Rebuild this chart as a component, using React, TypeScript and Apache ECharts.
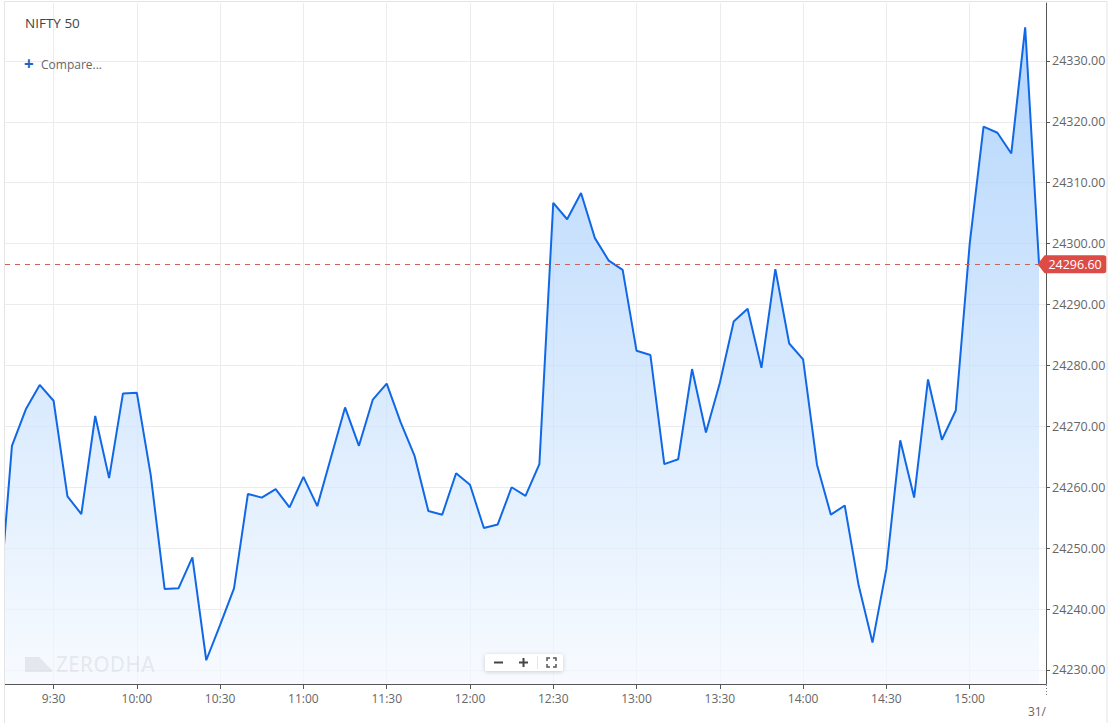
import * as echarts from 'echarts';
import { useEffect, useRef } from 'react';

// 5 minute closes, NIFTY 50 intraday (first point sits just left of the view)
const times = [
    '9:10', '9:15', '9:20', '9:25', '9:30', '9:35', '9:40', '9:45', '9:50', '9:55',
    '10:00', '10:05', '10:10', '10:15', '10:20', '10:25', '10:30', '10:35', '10:40', '10:45',
    '10:50', '10:55', '11:00', '11:05', '11:10', '11:15', '11:20', '11:25', '11:30', '11:35',
    '11:40', '11:45', '11:50', '11:55', '12:00', '12:05', '12:10', '12:15', '12:20', '12:25',
    '12:30', '12:35', '12:40', '12:45', '12:50', '12:55', '13:00', '13:05', '13:10', '13:15',
    '13:20', '13:25', '13:30', '13:35', '13:40', '13:45', '13:50', '13:55', '14:00', '14:05',
    '14:10', '14:15', '14:20', '14:25', '14:30', '14:35', '14:40', '14:45', '14:50', '14:55',
    '15:00', '15:05', '15:10', '15:15', '15:20', '15:25',
];

const prices = [
    24238.4, 24266.8, 24272.8, 24276.8, 24274.2, 24258.5, 24255.6, 24271.7, 24261.5, 24275.4,
    24275.5, 24262.0, 24243.3, 24243.4, 24248.5, 24231.6, 24237.4, 24243.4, 24258.9, 24258.3,
    24259.7, 24256.7, 24261.7, 24256.9, 24265.0, 24273.1, 24266.8, 24274.4, 24277.0, 24270.7,
    24265.2, 24256.1, 24255.5, 24262.3, 24260.4, 24253.3, 24253.9, 24260.0, 24258.6, 24263.8,
    24306.7, 24304.0, 24308.3, 24300.9, 24297.2, 24295.7, 24282.4, 24281.7, 24263.8, 24264.6,
    24279.4, 24269.0, 24277.1, 24287.2, 24289.3, 24279.6, 24295.8, 24283.6, 24281.0, 24263.7,
    24255.5, 24257.0, 24243.9, 24234.5, 24246.6, 24267.7, 24258.3, 24277.7, 24267.8, 24272.6,
    24299.9, 24319.2, 24318.2, 24314.8, 24335.5, 24296.6,
];

const timeTicks = ['9:30', '10:00', '10:30', '11:00', '11:30', '12:00', '12:30', '13:00', '13:30', '14:00', '14:30', '15:00'];
const priceTicks = [24230, 24240, 24250, 24260, 24270, 24280, 24290, 24300, 24310, 24320, 24330];

const toMin = (t: string) => {
    const [h, m] = t.split(':').map(Number);
    return h * 60 + m;
};
const fmtMin = (v: number) => {
    const h = Math.floor(v / 60);
    const m = Math.round(v - h * 60);
    return h + ':' + (m < 10 ? '0' : '') + m;
};

const FONT = '"Open Sans", "Noto Sans", sans-serif';

export default function App() {
    const chartRef = useRef<HTMLDivElement>(null);

    useEffect(() => {
        const chart = echarts.init(chartRef.current, null, { renderer: 'svg' });
        const series = times.map((t, i) => [toMin(t), prices[i]]);
        const last = series[series.length - 1];

        const option = {
            animation: false,
            backgroundColor: '#fff',
            textStyle: { fontFamily: FONT },
            grid: { left: 5, right: 65, top: 3, bottom: 39 },
            xAxis: {
                type: 'value',
                min: 552.5,
                max: 927.5,
                axisLine: { show: true, lineStyle: { color: '#555', width: 1 } },
                axisTick: {
                    show: true,
                    length: 5,
                    lineStyle: { color: '#555' },
                    customValues: timeTicks.map(toMin),
                },
                axisLabel: {
                    color: '#666',
                    fontSize: 12,
                    fontFamily: FONT,
                    margin: 8,
                    customValues: timeTicks.map(toMin),
                    formatter: (v: number) => fmtMin(v),
                },
                splitLine: { show: true, lineStyle: { color: '#ececec', width: 1 } },
            },
            yAxis: {
                type: 'value',
                position: 'right',
                min: 24227.7,
                max: 24339.5,
                axisLine: { show: true, lineStyle: { color: '#555', width: 1 } },
                axisTick: {
                    show: true,
                    length: 4,
                    lineStyle: { color: '#555' },
                    customValues: priceTicks,
                },
                axisLabel: {
                    color: '#666',
                    fontSize: 12.5,
                    fontFamily: FONT,
                    margin: 6,
                    customValues: priceTicks,
                    formatter: (v: number) => v.toFixed(2),
                },
                splitLine: { show: true, lineStyle: { color: '#ececec', width: 1 } },
            },
            series: [
                {
                    type: 'line',
                    data: series,
                    showSymbol: false,
                    clip: true,
                    lineStyle: { color: '#1168e6', width: 2 },
                    areaStyle: {
                        color: new echarts.graphic.LinearGradient(0, 0, 0, 1, [
                            { offset: 0, color: '#94c4fb' },
                            { offset: 1, color: '#f4f9ff' },
                        ]),
                    },
                    markLine: {
                        silent: true,
                        symbol: ['none', 'none'],
                        label: { show: false },
                        lineStyle: { color: '#d0605a', type: [5, 5], width: 1 },
                        data: [{ yAxis: last[1] }],
                    },
                    markPoint: {
                        silent: true,
                        symbol: 'path://M0,9 L7,0 L66,0 Q69,0 69,3 L69,15 Q69,18 66,18 L7,18 Z',
                        symbolSize: [69, 18],
                        symbolOffset: [33, 0],
                        itemStyle: { color: '#dd4b46' },
                        label: {
                            show: true,
                            color: '#fff',
                            fontSize: 12.5,
                            fontFamily: FONT,
                            offset: [3, 0],
                            formatter: (p: any) => Number(p.value).toFixed(2),
                        },
                        data: [{ coord: last, value: last[1] }],
                    },
                },
            ],
            graphic: [
                // outer frame
                {
                    type: 'rect',
                    shape: { x: 4.5, y: 1.5, width: 1102.5, height: 730 },
                    style: { fill: 'none', stroke: '#e4e4e4', lineWidth: 1 },
                    silent: true,
                    z: 50,
                },
                {
                    type: 'text',
                    left: 25,
                    top: 16,
                    style: { text: 'NIFTY 50', fill: '#444', fontSize: 13.5, fontFamily: FONT },
                    z: 60,
                },
                {
                    type: 'text',
                    left: 24,
                    top: 55,
                    style: { text: '+', fill: '#1f63c6', fontSize: 17, fontWeight: 'bold', fontFamily: FONT },
                    z: 60,
                },
                {
                    type: 'text',
                    left: 41,
                    top: 58,
                    style: { text: 'Compare...', fill: '#666', fontSize: 12, fontFamily: FONT },
                    z: 60,
                },
                // watermark
                {
                    type: 'polygon',
                    shape: { points: [[25, 657], [39, 657], [52, 670], [52, 672], [25, 672]] },
                    style: { fill: 'rgba(0,0,0,0.07)' },
                    silent: true,
                    z: 60,
                },
                {
                    type: 'text',
                    left: 56,
                    top: 653,
                    style: { text: 'ZERODHA', fill: 'rgba(0,0,0,0.07)', fontSize: 21, fontFamily: FONT, fontWeight: 600 },
                    silent: true,
                    z: 60,
                },
                // zoom controls
                {
                    type: 'rect',
                    shape: { x: 485, y: 654, width: 78, height: 17, r: 2 },
                    style: { fill: '#fff', shadowBlur: 4, shadowColor: 'rgba(0,0,0,0.18)', shadowOffsetY: 1 },
                    z: 70,
                },
                {
                    type: 'line',
                    shape: { x1: 494, y1: 662.5, x2: 503, y2: 662.5 },
                    style: { stroke: '#444', lineWidth: 2 },
                    z: 71,
                },
                {
                    type: 'line',
                    shape: { x1: 519, y1: 662.5, x2: 528, y2: 662.5 },
                    style: { stroke: '#444', lineWidth: 2 },
                    z: 71,
                },
                {
                    type: 'line',
                    shape: { x1: 523.5, y1: 658, x2: 523.5, y2: 667 },
                    style: { stroke: '#444', lineWidth: 2 },
                    z: 71,
                },
                {
                    type: 'line',
                    shape: { x1: 537.5, y1: 656, x2: 537.5, y2: 669 },
                    style: { stroke: '#e6e6e6', lineWidth: 1 },
                    z: 71,
                },
                {
                    type: 'polyline',
                    shape: { points: [[547, 661], [547, 658], [550, 658]] },
                    style: { stroke: '#555', lineWidth: 1.5, fill: 'none' },
                    z: 71,
                },
                {
                    type: 'polyline',
                    shape: { points: [[553, 658], [556, 658], [556, 661]] },
                    style: { stroke: '#555', lineWidth: 1.5, fill: 'none' },
                    z: 71,
                },
                {
                    type: 'polyline',
                    shape: { points: [[547, 664], [547, 667], [550, 667]] },
                    style: { stroke: '#555', lineWidth: 1.5, fill: 'none' },
                    z: 71,
                },
                {
                    type: 'polyline',
                    shape: { points: [[553, 667], [556, 667], [556, 664]] },
                    style: { stroke: '#555', lineWidth: 1.5, fill: 'none' },
                    z: 71,
                },
                // next day marker, cut off at the axis end
                {
                    type: 'line',
                    shape: { x1: 1046.5, y1: 685, x2: 1046.5, y2: 697 },
                    style: { stroke: '#777', lineWidth: 1, lineDash: [1, 2] },
                    z: 60,
                },
                {
                    type: 'text',
                    right: 65,
                    top: 705,
                    style: { text: '31/', fill: '#666', fontSize: 12, fontFamily: FONT },
                    z: 60,
                },
            ],
        };

        chart.setOption(option);

        return () => {
            chart.dispose();
        };
    }, []);

    return <div
        ref={chartRef}
        style={{
            position: 'fixed',
            left: 0,
            top: 0,
            width: '1111px',
            height: '723px',
            background: '#fff',
        }}
    />
}
